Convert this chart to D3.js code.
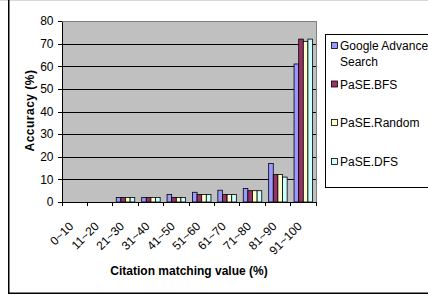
<!DOCTYPE html>
<head>
<meta charset="utf-8">
<style>
html, body { margin: 0; background: #fff; overflow: hidden; }
svg { display: block; }
text { font-family: "Liberation Sans", Arial, sans-serif; fill: #000; }
.grid { stroke: #000; stroke-width: 1px; shape-rendering: crispEdges; }
.axis path, .axis line { stroke: #000; shape-rendering: crispEdges; }
.axis text { font-size: 12px; }
.bar { stroke: #000; stroke-width: 0.8px; }
</style>
</head>
<body>
<script src="https://d3js.org/d3.v7.min.js"></script>
<script>
  // data
  var categories = ["0~10", "11~20", "21~30", "31~40", "41~50", "51~60", "61~70", "71~80", "81~90", "91~100"];
  var seriesNames = ["Google Advanced Search", "PaSE.BFS", "PaSE.Random", "PaSE.DFS"];
  var google = [0, 0, 2, 2, 3.3, 4.3, 5.2, 6.0, 17, 61];
  var bfs    = [0, 0, 2, 2, 2, 3.3, 3.3, 5.0, 12.2, 72];
  var random = [0, 0, 2, 2, 2, 3.3, 3.3, 5.0, 12.2, 71];
  var dfs    = [0, 0, 2, 2, 2, 3.3, 3.3, 5.0, 11, 72];
  var yTicks = [0, 10, 20, 30, 40, 50, 60, 70, 80];
  var colors = ["#9999ff", "#993366", "#ffffcc", "#ccffff"];

  var values = [google, bfs, random, dfs];

  var W = 428, H = 295;
  var plot = { left: 62, right: 316, top: 21, bottom: 202 };

  var svg = d3.select("body").append("svg")
      .attr("width", W)
      .attr("height", H);

  // outer frame
  svg.append("line").attr("x1", 0).attr("x2", W).attr("y1", 0.5).attr("y2", 0.5)
      .style("stroke", "#d8d8d8");
  svg.append("path")
      .attr("d", "M8.75,0 V293.25 H" + W)
      .style("fill", "none").style("stroke", "#000").style("stroke-width", 1.5);

  var x = d3.scaleBand().domain(categories).range([plot.left, plot.right]);
  var y = d3.scaleLinear().domain([0, 80]).range([plot.bottom, plot.top]);
  var x1 = d3.scaleBand().domain(d3.range(4))
      .range([0, x.bandwidth()]).paddingOuter(0.75).paddingInner(0);

  // plot background
  svg.append("rect")
      .attr("x", plot.left).attr("y", plot.top)
      .attr("width", plot.right - plot.left).attr("height", plot.bottom - plot.top)
      .style("fill", "#c0c0c0")
      .style("stroke", "#808080")
      .style("shape-rendering", "crispEdges");

  // horizontal grid lines
  svg.selectAll("line.grid")
      .data(yTicks.filter(function (d) { return d > 0 && d < 80; }))
    .enter().append("line")
      .classed("grid", true)
      .attr("x1", plot.left).attr("x2", plot.right)
      .attr("y1", function (d) { return Math.round(y(d)) + 0.5; })
      .attr("y2", function (d) { return Math.round(y(d)) + 0.5; });

  // bars
  var groups = svg.selectAll("g.cat")
      .data(categories)
    .enter().append("g")
      .attr("transform", function (d) { return "translate(" + x(d) + ",0)"; });

  groups.selectAll("rect")
      .data(function (d, i) { return values.map(function (s, k) { return { k: k, v: s[i] }; }); })
    .enter().append("rect")
      .classed("bar", true)
      .attr("x", function (d) { return x1(d.k); })
      .attr("width", x1.bandwidth())
      .attr("y", function (d) { return y(d.v); })
      .attr("height", function (d) { return y(0) - y(d.v); })
      .style("fill", function (d) { return colors[d.k]; })
      .style("display", function (d) { return d.v > 0 ? null : "none"; });

  // y axis
  svg.append("g")
      .attr("class", "axis")
      .attr("transform", "translate(" + plot.left + ",0)")
      .call(d3.axisLeft(y).tickValues(yTicks).tickSize(4).tickPadding(4.5).tickSizeOuter(0));

  // x axis, ticks on category boundaries
  var xa = svg.append("g")
      .attr("class", "axis")
      .attr("transform", "translate(0," + plot.bottom + ")");
  xa.append("line").attr("x1", plot.left).attr("x2", plot.right);
  xa.selectAll("line.tk")
      .data(d3.range(categories.length + 1))
    .enter().append("line")
      .attr("x1", function (i) { return plot.left + i * x.step(); })
      .attr("x2", function (i) { return plot.left + i * x.step(); })
      .attr("y1", 0).attr("y2", 4);
  xa.selectAll("text")
      .data(categories)
    .enter().append("text")
      .attr("transform", function (d) {
        return "translate(" + (x(d) + x.bandwidth() / 2 - 0.5) + ",25) rotate(-45)";
      })
      .style("text-anchor", "end")
      .text(function (d) { return d; });

  // axis titles
  svg.append("text")
      .attr("x", (plot.left + plot.right) / 2)
      .attr("y", 275)
      .style("text-anchor", "middle")
      .style("font-size", "12px")
      .style("font-weight", "bold")
      .text("Citation matching value (%)");

  svg.append("text")
      .attr("transform", "translate(34," + ((plot.top + plot.bottom) / 2 - 1) + ") rotate(-90)")
      .style("text-anchor", "middle")
      .style("font-size", "12px")
      .style("font-weight", "bold")
      .style("letter-spacing", "0.5px")
      .text("Accuracy (%)");

  // legend
  var legend = svg.append("g");
  legend.append("rect")
      .attr("x", 325.5).attr("y", 34.5)
      .attr("width", 120).attr("height", 153)
      .style("fill", "#fff").style("stroke", "#000");

  var legendRows = [
    { lines: ["Google Advanced", "Search"], y: 45.5 },
    { lines: ["PaSE.BFS"], y: 84 },
    { lines: ["PaSE.Random"], y: 122.5 },
    { lines: ["PaSE.DFS"], y: 161.5 }
  ];
  legendRows.forEach(function (r, k) {
    legend.append("rect")
        .attr("x", 331.5).attr("y", r.y - 3)
        .attr("width", 6).attr("height", 6)
        .style("fill", colors[k]).style("stroke", "#000").style("stroke-width", 0.8);
    r.lines.forEach(function (t, j) {
      legend.append("text")
          .attr("x", 340).attr("y", r.y + 4.5 + j * 16)
          .style("font-size", "12px")
          .text(t);
    });
  });
</script>
</body>
